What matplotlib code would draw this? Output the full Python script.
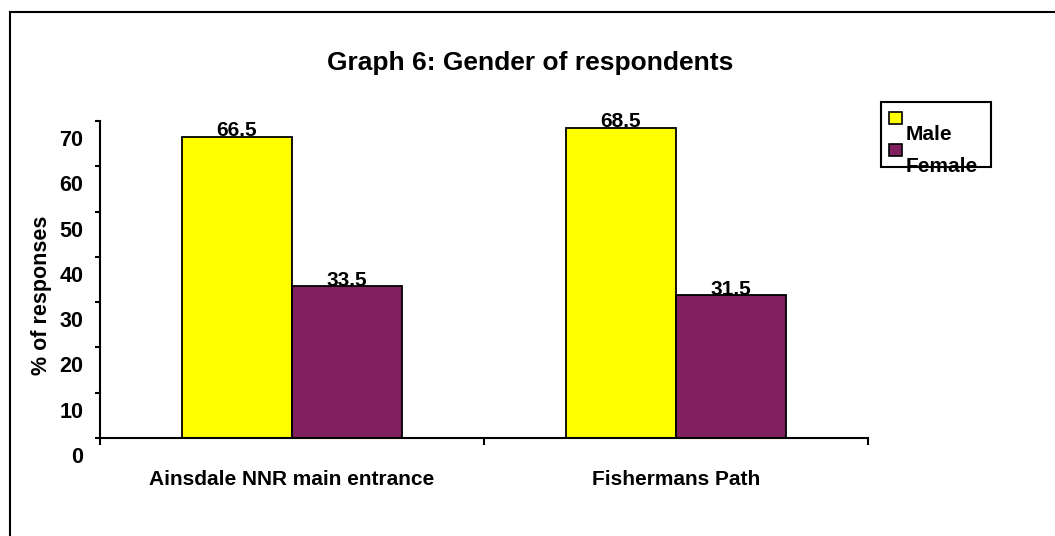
import matplotlib
matplotlib.use("Agg")
import matplotlib.pyplot as plt
import matplotlib.transforms as mtransforms
from matplotlib.patches import Rectangle
from matplotlib.lines import Line2D
import numpy as np

plt.rcParams['font.family'] = ['Liberation Sans', 'DejaVu Sans']
plt.rcParams['font.weight'] = 'bold'

categories = ["Ainsdale NNR main entrance", "Fishermans Path"]
series_names = ["Male", "Female"]
male = [66.5, 68.5]
female = [33.5, 31.5]
colors = ["#FFFF00", "#80205F"]
yticks = [0, 10, 20, 30, 40, 50, 60, 70]

W, H = 1055, 536
fig = plt.figure(figsize=(W / 100, H / 100), dpi=100)
ax = fig.add_axes([100 / W, 1 - 438 / H, 768 / W, 317 / H])

x = np.arange(len(categories))
bw = 0.2865
for vals, off, col in [(male, -bw / 2, colors[0]), (female, bw / 2, colors[1])]:
    bars = ax.bar(x + off, vals, width=bw, color=col, edgecolor="black", linewidth=1.3)
    for b, v in zip(bars, vals):
        ax.text(b.get_x() + b.get_width() / 2, v - 0.8, f"{v}", ha="center", va="bottom",
                fontsize=15, fontweight="bold")

ax.set_xlim(-0.5, 1.5)
ax.set_ylim(0, 70)
for s in ["top", "right"]:
    ax.spines[s].set_visible(False)
ax.spines["left"].set_linewidth(1.5)
ax.spines["bottom"].set_linewidth(1.5)

ax.set_yticks(yticks)
ax.set_yticklabels([str(t) for t in yticks], fontsize=15.5, fontweight="bold")
ax.tick_params(axis="y", length=3.5, width=1.5, pad=8.5)
shift = mtransforms.ScaledTranslation(0, -17 / 100, fig.dpi_scale_trans)
for lab in ax.get_yticklabels():
    lab.set_transform(lab.get_transform() + shift)

ax.set_xticks([-0.5, 0.5, 1.5])
ax.set_xticklabels([])
ax.tick_params(axis="x", length=5, width=1.5)
for i, c in enumerate(categories):
    ax.text(x[i], -9.2, c, ha="center", va="center", fontsize=15, fontweight="bold")

ax.set_ylabel("% of responses", fontsize=15.5, fontweight="bold")
ax.yaxis.set_label_coords(-0.063, 0.45)

fig.text(530 / W, 1 - 63 / H, "Graph 6: Gender of respondents", ha="center", va="center",
         fontsize=19, fontweight="bold")

# legend drawn by hand
fig.patches.append(Rectangle((881 / W, 1 - 167 / H), 110 / W, 65 / H, transform=fig.transFigure,
                             facecolor="white", edgecolor="black", linewidth=1.5))
for name, col, ys, yt in [(series_names[0], colors[0], 118, 135), (series_names[1], colors[1], 150, 167)]:
    fig.patches.append(Rectangle((889 / W, 1 - (ys + 6) / H), 13 / W, 12 / H, transform=fig.transFigure,
                                 facecolor=col, edgecolor="black", linewidth=1.2))
    fig.text(906 / W, 1 - yt / H, name, ha="left", va="center", fontsize=15, fontweight="bold")

# outer frame
fig.add_artist(Line2D([10 / W, 1], [1 - 12 / H, 1 - 12 / H], transform=fig.transFigure, color="black", lw=1.5))
fig.add_artist(Line2D([10 / W, 10 / W], [0, 1 - 12 / H], transform=fig.transFigure, color="black", lw=1.5))

fig.savefig("out.png", dpi=100)
